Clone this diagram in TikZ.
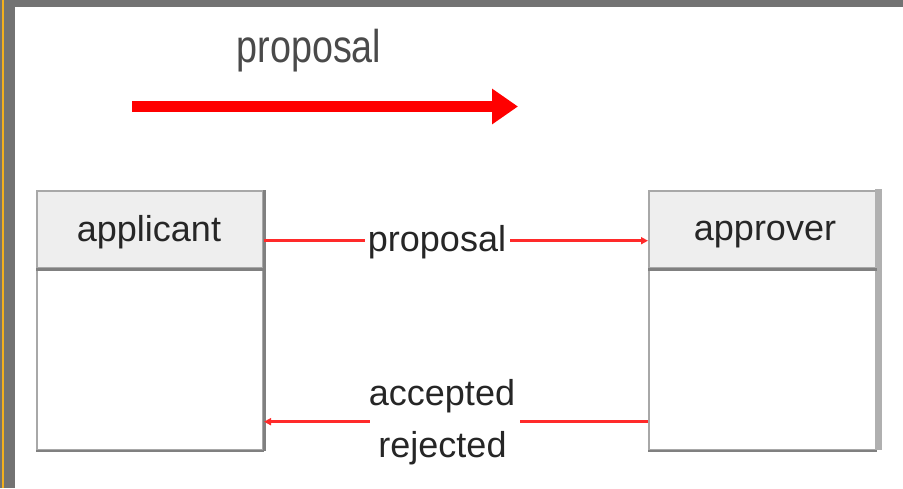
\documentclass[tikz,border=0pt]{standalone}
\usepackage{fontspec}
\setmainfont{Liberation Sans}
\usetikzlibrary{arrows.meta}
\definecolor{framegray}{HTML}{737373}
\definecolor{frameyellow}{HTML}{F2B01E}
\definecolor{headfill}{HTML}{EEEEEE}
\definecolor{edgelight}{HTML}{A8A8A8}
\definecolor{edgedark}{HTML}{808080}
\definecolor{stripgray}{HTML}{B0B0B0}
\definecolor{msgred}{HTML}{FF2A2A}
\definecolor{labelink}{HTML}{262626}
\definecolor{titleink}{HTML}{4A4A4A}
\begin{document}
\begin{tikzpicture}[x=1pt,y=-1pt,
  big/.style={font=\fontsize{36}{43}\selectfont, text=labelink, inner sep=0pt},
  head/.style={draw=edgelight, line width=2pt, fill=headfill, minimum width=226pt,
    minimum height=77pt, inner sep=0pt, anchor=north west},
  body/.style={draw=edgelight, line width=2pt, fill=white, minimum width=226pt,
    minimum height=182pt, inner sep=0pt, anchor=north west},
  gap/.style={inner sep=0pt, minimum height=8pt},
  msg/.style={draw=msgred, line width=2.5pt},
  tipend/.style={-{Triangle[length=7pt,width=7pt]}}
]
\useasboundingbox (0,0) rectangle (903,488);
\fill[white] (0,0) rectangle (903,488);

% window frame
\fill[framegray] (0,0) rectangle (903,7);
\fill[framegray] (0,0) rectangle (15,488);
\fill[frameyellow] (1.5,0) rectangle (4.3,488);

% title arrow
\node[font=\fontsize{46}{52}\selectfont, text=titleink, inner sep=0pt, anchor=base]
  (toplabel) at (309,62) {\scalebox{0.82}[1]{proposal}};
\coordinate (bigtail) at (132,106.5);
\coordinate (bighead) at (518,106.5);
\draw[red, line width=11pt, -{Triangle[length=26pt,width=34pt]}] (bigtail) -- (bighead);

% applicant
\node[head] (apphead) at (36,190) {};
\node[body] (appbody) at (36,267) {};
\draw[edgedark, line width=3pt] (apphead.north east) -- (appbody.south east);
\draw[edgedark, line width=2.5pt] (appbody.south west) -- (appbody.south east);
\draw[edgedark, line width=3pt] (apphead.south west) -- (apphead.south east);
\node[big, anchor=base] (applabel) at (149,241) {applicant};

% approver
\node[head, minimum width=227pt] (apprhead) at (648,190) {};
\node[body, minimum width=227pt] (apprbody) at (648,267) {};
\fill[stripgray] (875,189) rectangle (882,450);
\draw[edgedark, line width=2.5pt] (apprbody.south west) -- (apprbody.south east);
\draw[edgedark, line width=3pt] (apprhead.south west) -- (apprhead.south east);
\node[big, anchor=base] (apprlabel) at (765,240) {approver};

% proposal message
\node[gap, minimum width=145pt] (propgap) at (437.5,240.7) {};
\node[big, anchor=base] (proptext) at (437,251) {proposal};
\draw[msg] (apphead.east |- propgap.center) -- (propgap.west);
\draw[msg, tipend] (propgap.east) -- (apprhead.west |- propgap.center);

% reply message
\node[gap, minimum width=150pt] (retgap) at (445,421.7) {};
\node[big, anchor=base] (acctext) at (442,405) {accepted};
\node[big, anchor=base] (rejtext) at (442.5,457) {rejected};
\draw[msg] (apprbody.west |- retgap.center) -- (retgap.east);
\draw[msg, tipend] (retgap.west) -- (appbody.east |- retgap.center);
\end{tikzpicture}
\end{document}
